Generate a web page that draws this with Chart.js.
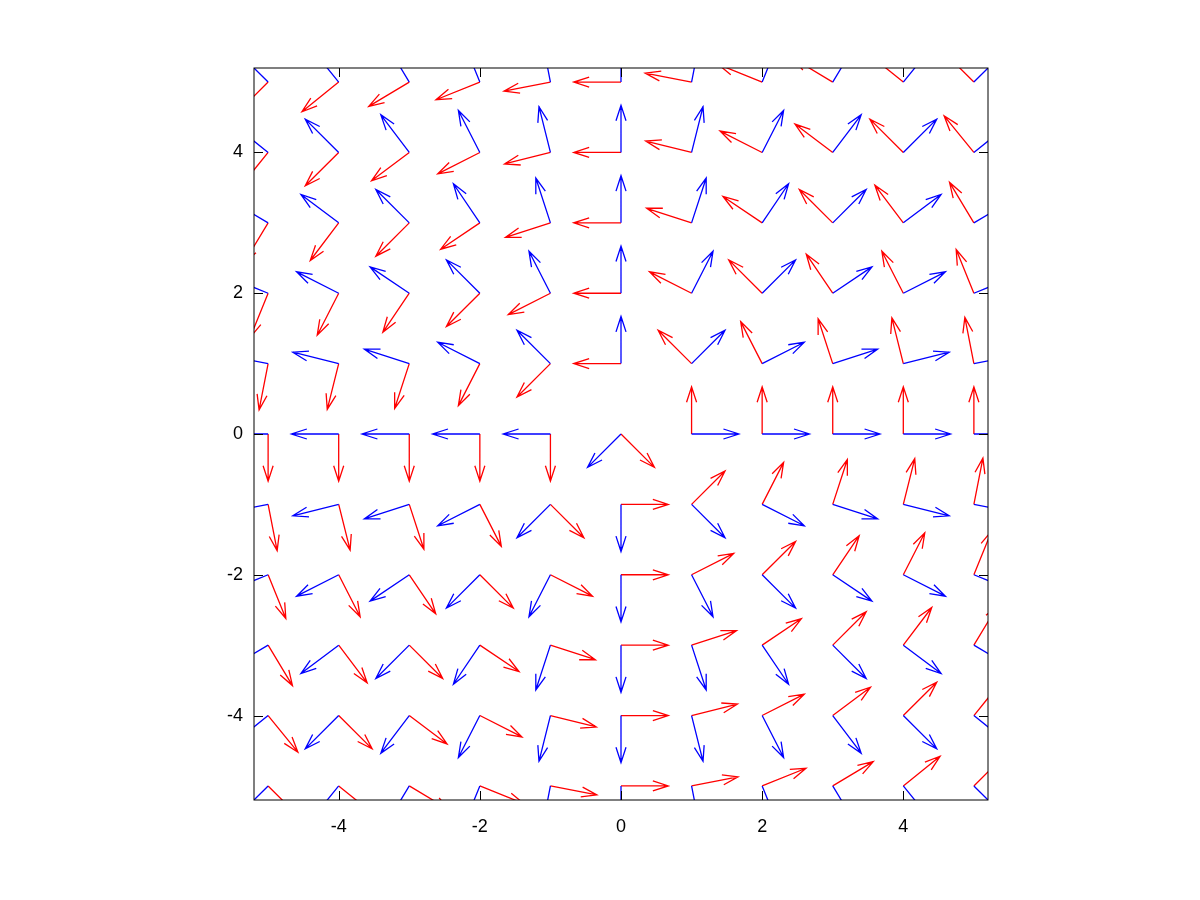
<!DOCTYPE html>
<html>
<head>
<meta charset="utf-8">
<script src="https://cdn.jsdelivr.net/npm/chart.js@4.4.1/dist/chart.umd.min.js"></script>
<style>
  html, body { margin: 0; padding: 0; background: #fff; }
  canvas { display: block; }
</style>
</head>
<body>
<canvas id="fieldChart" width="1200" height="900"></canvas>
<script>
const xs = [-5, -4, -3, -2, -1, 0, 1, 2, 3, 4, 5];
const ys = [5, 4, 3, 2, 1, 0, -1, -2, -3, -4, -5];

// direction of the blue vector at each grid point in degrees, rows top to bottom
const blueAngles = [
  [135, 129, 121, 112, 101, 90, 79, 68, 59, 51, 45],
  [141, 135, 127, 117, 104, 90, 76, 63, 53, 45, 39],
  [149, 143, 135, 124, 108, 90, 72, 56, 45, 37, 31],
  [158, 153, 146, 135, 117, 90, 63, 45, 34, 27, 22],
  [169, 166, 162, 153, 135, 90, 45, 27, 18, 14, 11],
  [180, 180, 180, 180, 180, -135, 0, 0, 0, 0, 0],
  [-169, -166, -162, -153, -135, -90, -45, -27, -18, -14, -11],
  [-158, -153, -146, -135, -117, -90, -63, -45, -34, -27, -22],
  [-149, -143, -135, -124, -108, -90, -72, -56, -45, -37, -31],
  [-141, -135, -127, -117, -104, -90, -76, -63, -53, -45, -39],
  [-135, -129, -121, -112, -101, -90, -79, -68, -59, -51, -45],
];

// the red vector is the blue one turned a quarter turn anticlockwise
const redTurn = 90;
const arrowLength = 0.67;
const tickValues = [-4, -2, 0, 2, 4];
const axisMin = -5.2;
const axisMax = 5.2;

const headLength = 0.23;
const headSpread = 18;

function arrowPoints(turn) {
  const pts = [];
  ys.forEach((y, row) => {
    xs.forEach((x, col) => {
      const a = (blueAngles[row][col] + turn) * Math.PI / 180;
      const tx = x + arrowLength * Math.cos(a);
      const ty = y + arrowLength * Math.sin(a);
      pts.push({ x: x, y: y }, { x: tx, y: ty }, { x: tx, y: null });
      const heads = [-1, 1].map((side) => {
        const b = a + Math.PI + side * headSpread * Math.PI / 180;
        return { x: tx + headLength * Math.cos(b), y: ty + headLength * Math.sin(b) };
      });
      pts.push(heads[0], { x: tx, y: ty }, heads[1], { x: tx, y: null });
    });
  });
  return pts;
}

const frame = {
  id: "frame",
  afterDatasetsDraw(chart) {
    const { ctx, chartArea: a, scales } = chart;
    ctx.save();
    ctx.strokeStyle = "#000";
    ctx.lineWidth = 1;
    ctx.beginPath();
    tickValues.forEach((v) => {
      const px = Math.round(scales.x.getPixelForValue(v)) + 0.5;
      const py = Math.round(scales.y.getPixelForValue(v)) + 0.5;
      ctx.moveTo(px, a.bottom); ctx.lineTo(px, a.bottom - 9);
      ctx.moveTo(px, a.top); ctx.lineTo(px, a.top + 9);
      ctx.moveTo(a.left, py); ctx.lineTo(a.left + 9, py);
      ctx.moveTo(a.right, py); ctx.lineTo(a.right - 9, py);
    });
    ctx.stroke();
    ctx.strokeRect(a.left, a.top, a.right - a.left, a.bottom - a.top);
    ctx.restore();
  },
};

const setTicks = (scale) => {
  scale.ticks = tickValues.map((v) => ({ value: v }));
};

const ctx = document.getElementById("fieldChart").getContext("2d");
new Chart(ctx, {
  type: "scatter",
  data: {
    datasets: [
      {
        data: arrowPoints(0),
        borderColor: "#0000ff",
        borderWidth: 1.3,
        showLine: true,
        spanGaps: false,
        pointRadius: 0,
      },
      {
        data: arrowPoints(redTurn),
        borderColor: "#ff0000",
        borderWidth: 1.3,
        showLine: true,
        spanGaps: false,
        pointRadius: 0,
      },
    ],
  },
  options: {
    responsive: false,
    devicePixelRatio: 1,
    animation: false,
    layout: { padding: { top: 68, right: 212, bottom: 0, left: 0 } },
    plugins: { legend: { display: false }, tooltip: { enabled: false } },
    scales: {
      x: {
        type: "linear",
        min: axisMin,
        max: axisMax,
        afterBuildTicks: setTicks,
        afterFit: (s) => { s.height = 100; },
        grid: { display: false, drawTicks: false },
        border: { display: false },
        ticks: { color: "#000", padding: 16, font: { family: "Liberation Sans", size: 18 } },
      },
      y: {
        type: "linear",
        min: axisMin,
        max: axisMax,
        afterBuildTicks: setTicks,
        afterFit: (s) => { s.width = 254; },
        grid: { display: false, drawTicks: false },
        border: { display: false },
        ticks: { color: "#000", padding: 11, font: { family: "Liberation Sans", size: 18 } },
      },
    },
  },
  plugins: [frame],
});
</script>
</body>
</html>
